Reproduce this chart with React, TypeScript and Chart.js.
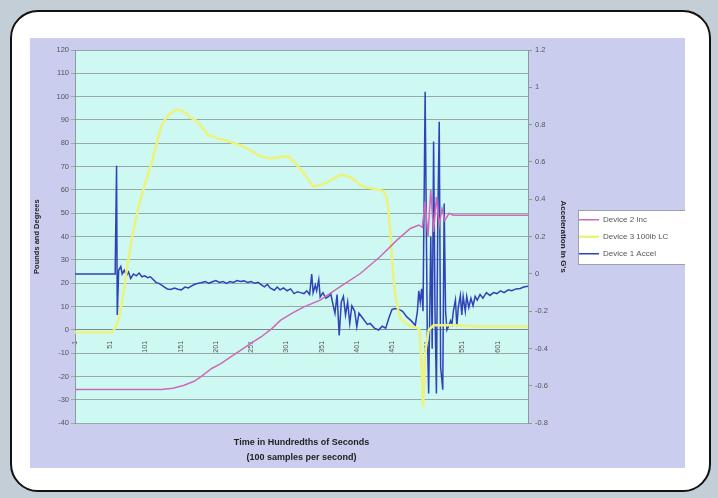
import React, { useEffect, useRef } from 'react';
import { Chart, registerables } from 'chart.js';

Chart.register(...registerables);

// ---- data (sample index, value) ----
const xTickValues = [1, 51, 101, 151, 201, 251, 301, 351, 401, 451, 501, 551, 601];
const leftTickValues = [-40, -30, -20, -10, 0, 10, 20, 30, 40, 50, 60, 70, 80, 90, 100, 110, 120];
const rightTickValues = [-0.8, -0.6, -0.4, -0.2, 0, 0.2, 0.4, 0.6, 0.8, 1, 1.2];
const seriesLabels = ['Device 2 Inc', 'Device 3 100lb LC', 'Device 1 Accel'];
const xTitle = ['Time in Hundredths of Seconds', '(100 samples per second)'];
const leftTitle = 'Pounds and Degrees';
const rightTitle = "Acceleration in G's";

const device2Inc: [number, number][] = [
  [1, -25.5], [123, -25.5], [140, -25], [156, -23.7], [170, -22], [180, -20], [195, -16.5],
  [208, -14.4], [222, -11.5], [236, -8.7], [250, -5.8], [265, -3], [280, 0.5], [293, 4.2],
  [310, 7.3], [326, 9.9], [349, 12.8], [377, 18.5], [406, 24.2], [434, 31.4], [458, 38.5],
  [477, 43.5], [489, 45], [494, 44], [498, 55], [502, 40], [506, 60], [510, 42], [514, 57],
  [518, 45], [522, 52], [526, 47], [532, 50], [538, 49.2], [644, 49.2],
];

const device3LoadCell: [number, number][] = [
  [1, -1], [54, -1], [60, 2], [64, 6], [70, 16], [75, 27], [81, 38], [87, 47], [93, 55],
  [99, 61], [105, 67], [111, 73], [117, 80], [123, 87], [130, 91], [137, 93], [145, 94.5],
  [151, 94], [158, 93], [165, 91], [172, 90], [177, 88.5], [184, 86], [189, 83.5], [198, 83],
  [203, 82], [212, 81.5], [222, 80.5], [232, 79.5], [241, 78.5], [250, 77], [260, 75],
  [270, 74], [279, 73.5], [290, 74], [303, 74.5], [312, 72], [322, 68.5], [330, 65.5],
  [339, 61.5], [348, 62], [358, 63], [368, 65], [378, 66.5], [386, 66], [392, 65.5],
  [399, 64], [406, 62], [415, 61], [425, 60.5], [433, 60], [439, 59.5], [443, 57], [446, 51],
  [449, 40], [451, 30], [454, 20], [456, 14], [460, 8], [463, 5], [470, 3], [478, 1.5],
  [486, 1], [490, 0], [493, -15], [495, -33], [498, -10], [503, 0], [510, 2], [540, 2],
  [570, 1.5], [600, 1.5], [644, 1.5],
];

const device1Accel: [number, number][] = [
  [1, 0], [58, 0], [60, 0.58], [61, -0.22], [63, 0.02], [66, 0.04], [68, 0.0], [71, 0.02],
  [74, -0.01], [77, 0.01], [80, -0.024], [84, 0.0], [88, -0.01], [92, 0.005], [96, -0.015],
  [100, -0.01], [104, -0.02], [108, -0.015], [112, -0.03], [116, -0.045], [120, -0.05],
  [124, -0.06], [128, -0.07], [132, -0.08], [137, -0.083], [142, -0.075], [147, -0.082],
  [152, -0.085], [157, -0.07], [162, -0.075], [166, -0.065], [171, -0.055], [176, -0.05],
  [180, -0.047], [186, -0.04], [191, -0.05], [196, -0.042], [201, -0.035], [206, -0.045],
  [211, -0.04], [216, -0.05], [221, -0.04], [226, -0.045], [231, -0.035], [236, -0.04],
  [241, -0.037], [246, -0.045], [251, -0.04], [256, -0.05], [261, -0.045], [266, -0.06],
  [270, -0.069], [274, -0.055], [278, -0.075], [284, -0.087], [288, -0.07], [292, -0.085],
  [297, -0.075], [302, -0.09], [307, -0.08], [312, -0.105], [317, -0.095], [321, -0.1],
  [326, -0.105], [330, -0.09], [334, -0.11], [337, 0.0], [339, -0.1], [342, -0.06],
  [344, -0.09], [347, -0.03], [349, -0.123], [353, -0.1], [357, -0.13], [361, -0.12],
  [364, -0.105], [367, -0.16], [370, -0.21], [373, -0.11], [376, -0.33], [379, -0.15],
  [382, -0.12], [385, -0.22], [388, -0.15], [391, -0.265], [394, -0.17], [398, -0.2],
  [401, -0.283], [404, -0.21], [410, -0.24], [416, -0.27], [420, -0.265], [426, -0.29],
  [432, -0.3], [437, -0.28], [442, -0.29], [447, -0.23], [451, -0.19], [456, -0.185],
  [461, -0.19], [466, -0.2], [472, -0.23], [478, -0.25], [484, -0.275], [487, -0.2],
  [489, -0.09], [491, -0.15], [493, -0.08], [495, -0.2], [498, 0.976], [501, -0.3],
  [503, -0.64], [506, 0.2], [508, -0.4], [510, 0.71], [512, -0.2], [514, -0.64], [516, 0.3],
  [518, 0.815], [520, -0.5], [523, -0.62], [525, 0.378], [527, -0.2], [529, -0.3],
  [531, -0.283], [534, -0.25], [536, -0.27], [538, -0.2], [541, -0.14], [543, -0.28],
  [545, -0.18], [548, -0.115], [550, -0.22], [552, -0.12], [555, -0.2], [557, -0.12],
  [560, -0.18], [563, -0.13], [566, -0.17], [569, -0.12], [572, -0.14], [576, -0.11],
  [580, -0.13], [585, -0.1], [590, -0.115], [595, -0.1], [600, -0.105], [605, -0.09],
  [610, -0.1], [616, -0.085], [621, -0.09], [627, -0.08], [633, -0.078], [638, -0.07],
  [644, -0.065],
];

const FONT = "'Liberation Sans', Arial, sans-serif";

const backgroundPlugin = {
  id: 'bgBoxes',
  beforeDraw(chart: any) {
    const { ctx, chartArea: a } = chart;
    ctx.save();
    ctx.fillStyle = '#cef8f2';
    ctx.fillRect(a.left, a.top, a.right - a.left, a.bottom - a.top);
    const lg = chart.legend;
    if (lg && lg.legendHitBoxes && lg.legendHitBoxes.length) {
      const hb = lg.legendHitBoxes;
      const top = Math.round(hb[0].top - 6);
      const last = hb[hb.length - 1];
      const bottom = Math.round(last.top + last.height + 6);
      const left = Math.round(lg.left + 8);
      ctx.fillStyle = '#ffffff';
      ctx.fillRect(left, top, 300, bottom - top);
      ctx.strokeStyle = '#a0a0a8';
      ctx.lineWidth = 1;
      ctx.strokeRect(left + 0.5, top + 0.5, 300, bottom - top);
    }
    ctx.restore();
  },
};

export default function App() {
  const ref = useRef<HTMLCanvasElement | null>(null);

  useEffect(() => {
    if (!ref.current) return;
    Chart.defaults.font.family = FONT;
    const toPts = (arr: [number, number][]) => arr.map(([x, y]) => ({ x, y }));
    const chart = new Chart(ref.current, {
      type: 'line',
      data: {
        datasets: [
          {
            label: seriesLabels[0],
            data: toPts(device2Inc),
            yAxisID: 'y',
            borderColor: '#d068b8',
            backgroundColor: '#d068b8',
            borderWidth: 1.5,
            pointRadius: 0,
            tension: 0,
            order: 0,
          },
          {
            label: seriesLabels[1],
            data: toPts(device3LoadCell),
            yAxisID: 'y',
            borderColor: '#ecf27a',
            backgroundColor: '#ecf27a',
            borderWidth: 2.5,
            pointRadius: 0,
            tension: 0,
            order: 1,
          },
          {
            label: seriesLabels[2],
            data: toPts(device1Accel),
            yAxisID: 'y1',
            borderColor: '#2f43b8',
            backgroundColor: '#2f43b8',
            borderWidth: 1.5,
            pointRadius: 0,
            tension: 0,
            order: 2,
          },
        ],
      },
      options: {
        animation: false,
        responsive: false,
        maintainAspectRatio: false,
        events: [],
        layout: { padding: { left: 0, right: 60, top: 12, bottom: 1 } },
        plugins: {
          legend: {
            position: 'right',
            fullSize: false,
            maxWidth: 100,
            labels: {
              usePointStyle: true,
              pointStyle: 'line',
              pointStyleWidth: 20,
              padding: 9,
              color: '#555',
              font: { family: FONT, size: 8 },
            },
          },
          title: {
            display: true,
            position: 'bottom',
            fullSize: false,
            text: xTitle,
            color: '#222',
            font: { family: FONT, size: 9, weight: 'bold', lineHeight: 1.65 },
            padding: { top: 12, bottom: 2 },
          },
          tooltip: { enabled: false },
        },
        scales: {
          x: {
            type: 'linear',
            min: 1,
            max: 644,
            position: { y: 0 } as any,
            afterBuildTicks: (s: any) => {
              s.ticks = xTickValues.map((v) => ({ value: v }));
            },
            ticks: {
              autoSkip: false,
              minRotation: 90,
              maxRotation: 90,
              padding: 3,
              color: '#555',
              font: { family: FONT, size: 7 },
              callback: (v: any) => String(v),
            },
            grid: { display: false },
            border: { display: true, color: '#7d8a8a', width: 1 },
          },
          y: {
            type: 'linear',
            position: 'left',
            min: -40,
            max: 120,
            afterBuildTicks: (s: any) => {
              s.ticks = leftTickValues.map((v) => ({ value: v }));
            },
            afterFit: (s: any) => {
              s.width = 45;
            },
            ticks: {
              padding: 2,
              color: '#555',
              font: { family: FONT, size: 7.5 },
              callback: (v: any) => String(v),
            },
            grid: { color: '#93aaa8', lineWidth: 1, tickLength: 4 },
            border: { display: true, color: '#8a9a9a' },
            title: {
              display: true,
              text: leftTitle,
              color: '#222',
              font: { family: FONT, size: 7.5, weight: 'bold' },
              padding: { top: 2, bottom: 0 },
            },
          },
          y1: {
            type: 'linear',
            position: 'right',
            min: -0.8,
            max: 1.2,
            afterBuildTicks: (s: any) => {
              s.ticks = rightTickValues.map((v) => ({ value: v }));
            },
            afterFit: (s: any) => {
              s.width = 42;
            },
            ticks: {
              padding: 3,
              color: '#555',
              font: { family: FONT, size: 7.5 },
              callback: (v: any) => String(Math.round(Number(v) * 10) / 10),
            },
            grid: { drawOnChartArea: false, color: '#8a9a9a', tickLength: 4 },
            border: { display: true, color: '#8a9a9a' },
            title: {
              display: true,
              text: rightTitle,
              color: '#222',
              font: { family: FONT, size: 8, weight: 'bold' },
              padding: { top: 2, bottom: 0 },
            },
          },
        },
      },
      plugins: [backgroundPlugin],
    } as any);
    return () => chart.destroy();
  }, []);

  return (
    <div
      style={{
        position: 'fixed',
        left: 0,
        top: 0,
        width: 718,
        height: 498,
        background: '#c4ced6',
        overflow: 'hidden',
      }}
    >
      <div
        style={{
          position: 'absolute',
          left: 10,
          top: 10,
          width: 701,
          height: 482,
          boxSizing: 'border-box',
          background: '#ffffff',
          border: '2.5px solid #111',
          borderRadius: 28,
        }}
      />
      <div
        style={{
          position: 'absolute',
          left: 30,
          top: 38,
          width: 655,
          height: 430,
          overflow: 'hidden',
          background: '#cacdee',
        }}
      >
        <canvas ref={ref} width={700} height={430} style={{ display: 'block' }} />
      </div>
    </div>
  );
}
